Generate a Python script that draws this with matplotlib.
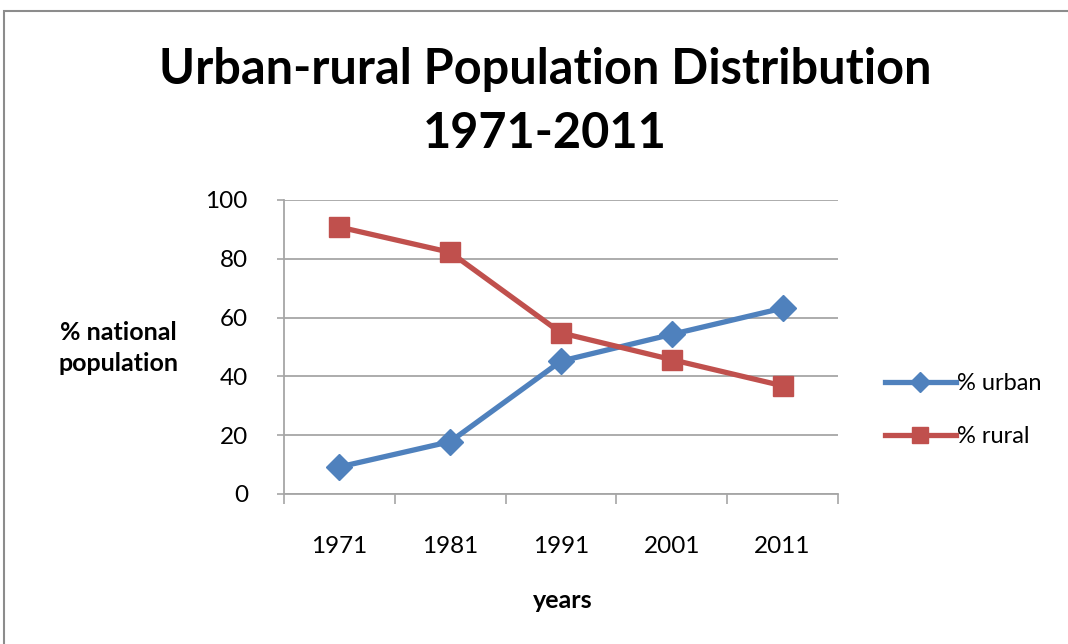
import matplotlib.pyplot as plt
from matplotlib.patches import Rectangle

years = ["1971", "1981", "1991", "2001", "2011"]
urban = [9.2, 17.8, 45.2, 54.3, 63.2]
rural = [90.8, 82.2, 54.8, 45.7, 36.8]
y_ticks = [0, 20, 40, 60, 80, 100]

blue = "#4F81BD"
red = "#C0504D"
grid_col = "#A6A6A6"

plt.rcParams['font.family'] = ['Lato', 'DejaVu Sans']

fig = plt.figure(figsize=(10.68, 6.44), dpi=100)
ax = fig.add_axes([284/1068, 1-494/644, (838-284)/1068, (494-200)/644])

x = list(range(len(years)))
ax.plot(x, urban, color=blue, lw=3.8, marker='D', ms=13, mec=blue, label='% urban', zorder=3)
ax.plot(x, rural, color=red, lw=3.8, marker='s', ms=15, mec=red, label='% rural', zorder=3)

ax.set_xlim(-0.5, len(years) - 0.5)
ax.set_ylim(0, 100)
ax.set_yticks(y_ticks)
ax.set_xticks([i - 0.5 for i in range(len(years) + 1)])
ax.set_xticklabels([])
ax.set_xticks(x, minor=True)
ax.set_xticklabels(years, minor=True, fontsize=17.5)
ax.tick_params(axis='x', which='minor', length=0, pad=30)
ax.tick_params(axis='x', which='major', length=7, color=grid_col, width=1.2)
ax.tick_params(axis='y', length=5, color=grid_col, width=1.2, labelsize=17.5, pad=21)
ax.yaxis.grid(True, color=grid_col, lw=1.3)
ax.set_axisbelow(True)
for s in ['top', 'right']:
    ax.spines[s].set_visible(False)
for s in ['left', 'bottom']:
    ax.spines[s].set_color(grid_col)
    ax.spines[s].set_linewidth(1.3)

fig.text(545/1068, 1-70/644, "Urban-rural Population Distribution", ha='center', va='center',
         fontsize=35, fontweight='bold')
fig.text(545/1068, 1-133/644, "1971-2011", ha='center', va='center',
         fontsize=35, fontweight='bold')
fig.text(118/1068, 1-348/644, "% national\npopulation", ha='center', va='center',
         fontsize=18, fontweight='bold', linespacing=1.45)
fig.text(563/1068, 1-601/644, "years", ha='center', va='center',
         fontsize=18, fontweight='bold')

leg = fig.legend(loc='center left', bbox_to_anchor=(885/1068, 1-410/644), frameon=False,
                 fontsize=17, handlelength=3.0, handletextpad=0.05, labelspacing=1.35,
                 markerscale=0.75, borderpad=0, borderaxespad=0)

fig.patches.append(Rectangle((4/1068, -0.05), 1.1, 1-11/644+0.05, transform=fig.transFigure,
                             fill=False, edgecolor='#8C8C8C', lw=1.5))

fig.savefig('out.png', dpi=100)
